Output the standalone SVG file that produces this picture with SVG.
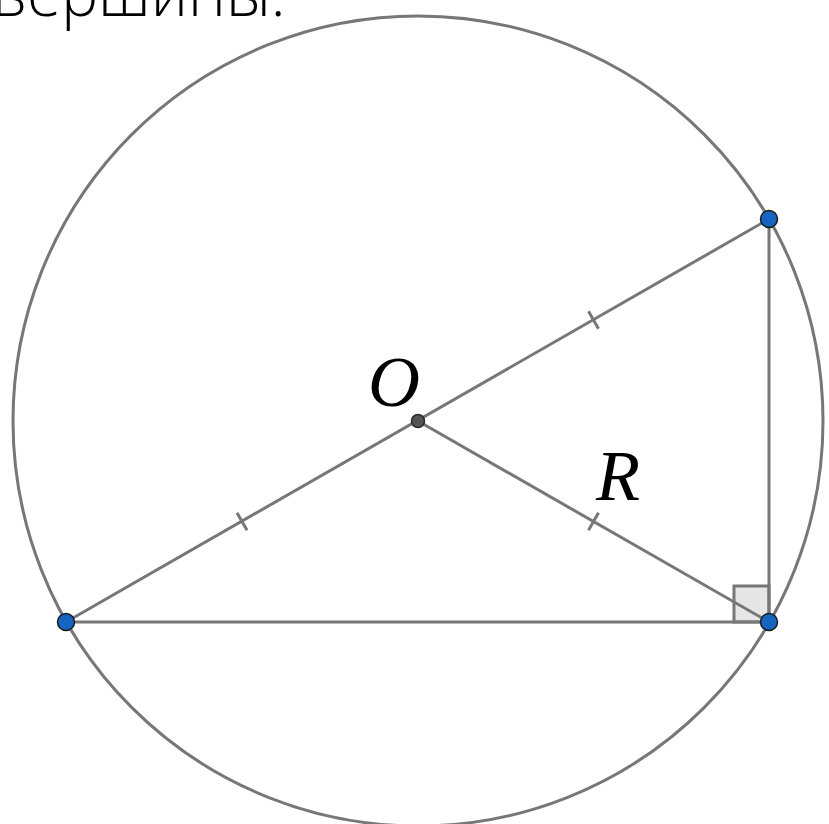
<svg xmlns="http://www.w3.org/2000/svg" width="829" height="824" viewBox="0 0 829 824">
<style>
.ln{stroke:#777;stroke-width:3;fill:none}
.tk{stroke:#777;stroke-width:3}
.pt{fill:#1565c0;stroke:#1a1a1a;stroke-width:1.5}
.lbl{font-family:"Liberation Serif",serif;font-style:italic;font-size:72px;fill:#000}
</style>
<rect width="829" height="824" fill="#fff"/>
<text x="-8" y="16" font-family="'Open Sans', sans-serif" font-weight="300" font-size="62" fill="#000">вершины.</text>
<g id="circle"><circle cx="418" cy="421" r="405" class="ln"/></g>
<g id="right-angle"><rect x="734" y="586" width="35" height="36" fill="#e6e6e6" stroke="#777" stroke-width="3"/></g>
<g id="connectors">
<line x1="66" y1="622" x2="769" y2="219" class="ln"/>
<line x1="66" y1="622" x2="769" y2="622" class="ln"/>
<line x1="769" y1="219" x2="769" y2="622" class="ln"/>
<line x1="418" y1="421" x2="769" y2="622" class="ln"/>
<line x1="237" y1="512.8" x2="247" y2="530.2" class="tk"/>
<line x1="588.5" y1="311.3" x2="598.5" y2="328.7" class="tk"/>
<line x1="598.5" y1="512.8" x2="588.5" y2="530.2" class="tk"/>
</g>
<g id="O"><circle cx="418" cy="421" r="6.5" fill="#555" stroke="#2a2a2a" stroke-width="1.5"/><text x="368" y="406" class="lbl">O</text></g>
<g id="R"><text x="596" y="500" class="lbl">R</text></g>
<g id="A"><circle cx="66" cy="622" r="8.5" class="pt"/></g>
<g id="B"><circle cx="769" cy="219" r="8.5" class="pt"/></g>
<g id="C"><circle cx="769" cy="622" r="8.5" class="pt"/></g>
</svg>
